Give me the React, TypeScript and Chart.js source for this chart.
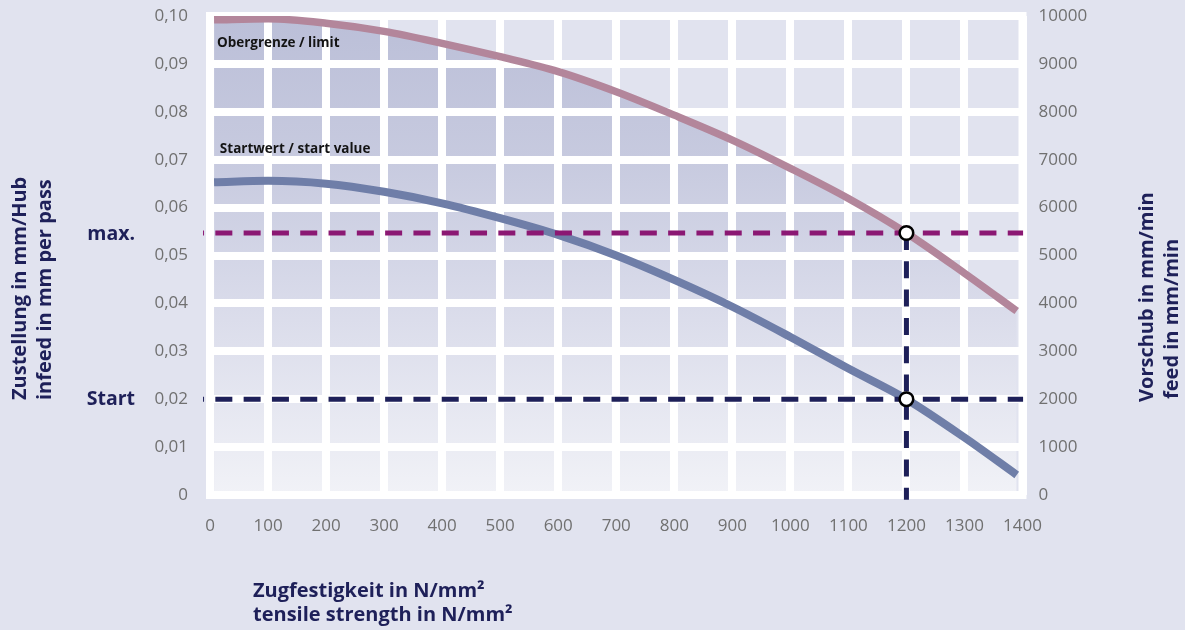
import React, { useEffect, useRef } from 'react';
import { Chart, registerables } from 'chart.js';

Chart.register(...registerables);

// ---------- data ----------
const X_TICKS = [0, 100, 200, 300, 400, 500, 600, 700, 800, 900, 1000, 1100, 1200, 1300, 1400];
const Y_LEFT_TICK_VALUES = [0, 0.01, 0.02, 0.03, 0.04, 0.05, 0.06, 0.07, 0.08, 0.09, 0.1];
const Y_LEFT_TICK_LABELS = ['0', '0,01', '0,02', '0,03', '0,04', '0,05', '0,06', '0,07', '0,08', '0,09', '0,10'];
const Y_RIGHT_TICK_VALUES = [0, 1000, 2000, 3000, 4000, 5000, 6000, 7000, 8000, 9000, 10000];
const Y_RIGHT_TICK_LABELS = ['0', '1000', '2000', '3000', '4000', '5000', '6000', '7000', '8000', '9000', '10000'];

const STRENGTH = [7, 100, 200, 300, 400, 500, 600, 700, 800, 900, 1000, 1100, 1200, 1300, 1390];
const LIMIT_INFEED = [0.0992, 0.0994, 0.0985, 0.0968, 0.0943, 0.0915, 0.0884, 0.0842, 0.0793, 0.0741, 0.0682, 0.0619, 0.0547, 0.0463, 0.0384];
const START_INFEED_CURVE = [0.0653, 0.0656, 0.065, 0.0633, 0.0609, 0.0578, 0.0543, 0.05, 0.0449, 0.0393, 0.033, 0.0264, 0.02, 0.012, 0.0042];

const TARGET_STRENGTH = 1200;
const MAX_INFEED = 0.0547;
const START_INFEED = 0.02;
const REF_LINE_X = [-12, 1401];
const REF_LINE_BOTTOM = -0.001;

const LABEL_LIMIT = { text: 'Obergrenze / limit', x: 12, y: 0.0944 };
const LABEL_START = { text: 'Startwert / start value', x: 17, y: 0.0722 };

const X_TITLE = ['Zugfestigkeit in N/mm²', 'tensile strength in N/mm²'];
const Y_LEFT_TITLE = ['Zustellung in mm/Hub', 'infeed in mm per pass'];
const Y_RIGHT_TITLE = ['Vorschub in mm/min', 'feed in mm/min'];

// ---------- styles ----------
const FONT = '"Open Sans", "Noto Sans", sans-serif';
const NAVY = '#1e2059';
const MAGENTA = '#8b1873';
const TICK_GREY = '#707070';
const PAGE_BG = '#e1e3ef';

const framePlugin = {
  id: 'frame',
  beforeDraw(chart: any) {
    const { ctx, chartArea: a } = chart;
    ctx.save();
    ctx.strokeStyle = '#ffffff';
    ctx.lineWidth = 8;
    ctx.strokeRect(a.left, a.top, a.right - a.left, a.bottom - a.top);
    ctx.restore();
  },
};

const textPlugin = {
  id: 'texts',
  afterDraw(chart: any) {
    const { ctx } = chart;
    const xs = chart.scales.x;
    const ys = chart.scales.y;
    ctx.save();
    // inline labels
    ctx.fillStyle = '#141414';
    ctx.font = `bold 13.5px ${FONT}`;
    ctx.textAlign = 'left';
    ctx.textBaseline = 'middle';
    [LABEL_LIMIT, LABEL_START].forEach((l) => {
      ctx.fillText(l.text, xs.getPixelForValue(l.x), ys.getPixelForValue(l.y));
    });
    // max / Start
    ctx.fillStyle = NAVY;
    ctx.font = `bold 19.5px ${FONT}`;
    ctx.textAlign = 'right';
    ctx.fillText('max.', 135, ys.getPixelForValue(MAX_INFEED) + 1);
    ctx.fillText('Start', 135, ys.getPixelForValue(START_INFEED));
    // x title
    ctx.font = `bold 20px ${FONT}`;
    ctx.textAlign = 'left';
    ctx.textBaseline = 'alphabetic';
    ctx.fillText(X_TITLE[0], 253, 597);
    ctx.fillText(X_TITLE[1], 253, 621);
    // rotated titles
    const rot = (t: string, x: number, y: number) => {
      ctx.save();
      ctx.translate(x, y);
      ctx.rotate(-Math.PI / 2);
      ctx.fillText(t, 0, 0);
      ctx.restore();
    };
    rot(Y_LEFT_TITLE[0], 26, 400);
    rot(Y_LEFT_TITLE[1], 51, 400);
    rot(Y_RIGHT_TITLE[0], 1153, 402);
    rot(Y_RIGHT_TITLE[1], 1178, 399);
    ctx.restore();
  },
};

function pts(xs: number[], ys: number[]) {
  return xs.map((x, i) => ({ x, y: ys[i] }));
}

const noPad = (s: any) => {
  s.paddingTop = 0;
  s.paddingBottom = 0;
  s.paddingLeft = 0;
  s.paddingRight = 0;
};

export default function App() {
  const ref = useRef<HTMLCanvasElement>(null);

  useEffect(() => {
    const canvas = ref.current;
    if (!canvas) return;
    const chart = new Chart(canvas, {
      type: 'line',
      data: {
        datasets: [
          {
            label: 'markers',
            data: [
              { x: TARGET_STRENGTH, y: MAX_INFEED },
              { x: TARGET_STRENGTH, y: START_INFEED },
            ],
            showLine: false,
            pointRadius: 6.8,
            pointBorderWidth: 2.5,
            pointBackgroundColor: '#ffffff',
            pointBorderColor: '#000000',
            order: 0,
            clip: false,
          } as any,
          {
            label: 'max',
            data: REF_LINE_X.map((x) => ({ x, y: MAX_INFEED })),
            borderColor: MAGENTA,
            borderWidth: 5,
            borderDash: [17, 11.3],
            borderDashOffset: 16,
            pointRadius: 0,
            order: 1,
            clip: false,
          } as any,
          {
            label: 'start',
            data: REF_LINE_X.map((x) => ({ x, y: START_INFEED })),
            borderColor: NAVY,
            borderWidth: 5,
            borderDash: [17, 11.3],
            borderDashOffset: 16,
            pointRadius: 0,
            order: 1,
            clip: false,
          } as any,
          {
            label: 'vertical',
            data: [
              { x: TARGET_STRENGTH, y: MAX_INFEED },
              { x: TARGET_STRENGTH, y: REF_LINE_BOTTOM },
            ],
            borderColor: NAVY,
            borderWidth: 5,
            borderDash: [17, 11.3],
            borderDashOffset: 0,
            pointRadius: 0,
            order: 1,
            clip: false,
          } as any,
          {
            label: 'Startwert / start value',
            data: pts(STRENGTH, START_INFEED_CURVE),
            borderColor: '#6f7ea8',
            borderWidth: 8,
            pointRadius: 0,
            cubicInterpolationMode: 'monotone',
            fill: false,
            order: 3,
          } as any,
          {
            label: 'Obergrenze / limit',
            data: pts(STRENGTH, LIMIT_INFEED),
            borderColor: '#b3869b',
            borderWidth: 7.5,
            pointRadius: 0,
            cubicInterpolationMode: 'monotone',
            fill: 'start',
            backgroundColor: (c: any) => {
              const a = c.chart.chartArea;
              if (!a) return 'rgba(0,0,0,0)';
              const g = c.chart.ctx.createLinearGradient(0, a.top, 0, a.bottom);
              g.addColorStop(0, '#bbbfd8');
              g.addColorStop(0.3, '#c7cadf');
              g.addColorStop(0.6, '#d9dbea');
              g.addColorStop(1, '#f1f2f7');
              return g;
            },
            order: 2,
          } as any,
        ],
      },
      options: {
        animation: false,
        responsive: false,
        devicePixelRatio: 1,
        layout: { padding: { top: 16, left: 0, right: 0, bottom: 0 } },
        plugins: {
          legend: { display: false },
          tooltip: { enabled: false },
          filler: { drawTime: 'beforeDraw' },
        } as any,
        scales: {
          x: {
            type: 'linear',
            min: 0,
            max: 1400,
            grid: { color: '#ffffff', lineWidth: 8, drawTicks: false },
            border: { display: false },
            ticks: {
              color: TICK_GREY,
              font: { family: FONT, size: 17 },
              padding: 21,
              maxRotation: 0,
              autoSkip: false,
              callback: (v: any) => String(v),
            },
            afterBuildTicks: (s: any) => {
              s.ticks = X_TICKS.map((v) => ({ value: v }));
            },
            afterFit: (s: any) => {
              noPad(s);
              s.height = 135;
            },
          },
          y: {
            type: 'linear',
            position: 'left',
            min: 0,
            max: 0.1,
            grid: { color: '#ffffff', lineWidth: 8, drawTicks: false },
            border: { display: false },
            ticks: {
              color: TICK_GREY,
              font: { family: FONT, size: 17 },
              padding: 22,
              autoSkip: false,
              callback: (v: any) => {
                const i = Y_LEFT_TICK_VALUES.findIndex((t) => Math.abs(t - v) < 1e-9);
                return i >= 0 ? Y_LEFT_TICK_LABELS[i] : '';
              },
            },
            afterBuildTicks: (s: any) => {
              s.ticks = Y_LEFT_TICK_VALUES.map((v) => ({ value: v }));
            },
            afterFit: (s: any) => {
              noPad(s);
              s.width = 210;
            },
          },
          y2: {
            type: 'linear',
            position: 'right',
            min: 0,
            max: 10000,
            grid: { display: false, drawTicks: false },
            border: { display: false },
            ticks: {
              color: TICK_GREY,
              font: { family: FONT, size: 17 },
              padding: 16,
              autoSkip: false,
              callback: (v: any) => {
                const i = Y_RIGHT_TICK_VALUES.indexOf(v);
                return i >= 0 ? Y_RIGHT_TICK_LABELS[i] : '';
              },
            },
            afterBuildTicks: (s: any) => {
              s.ticks = Y_RIGHT_TICK_VALUES.map((v) => ({ value: v }));
            },
            afterFit: (s: any) => {
              noPad(s);
              s.width = 162.5;
            },
          },
        } as any,
      },
      plugins: [framePlugin, textPlugin],
    } as any);
    return () => chart.destroy();
  }, []);

  return (
    <div
      style={{
        position: 'fixed',
        left: 0,
        top: 0,
        width: 1185,
        height: 630,
        background: PAGE_BG,
        overflow: 'hidden',
      }}
    >
      <canvas ref={ref} width={1185} height={630} style={{ display: 'block', width: 1185, height: 630 }} />
    </div>
  );
}
